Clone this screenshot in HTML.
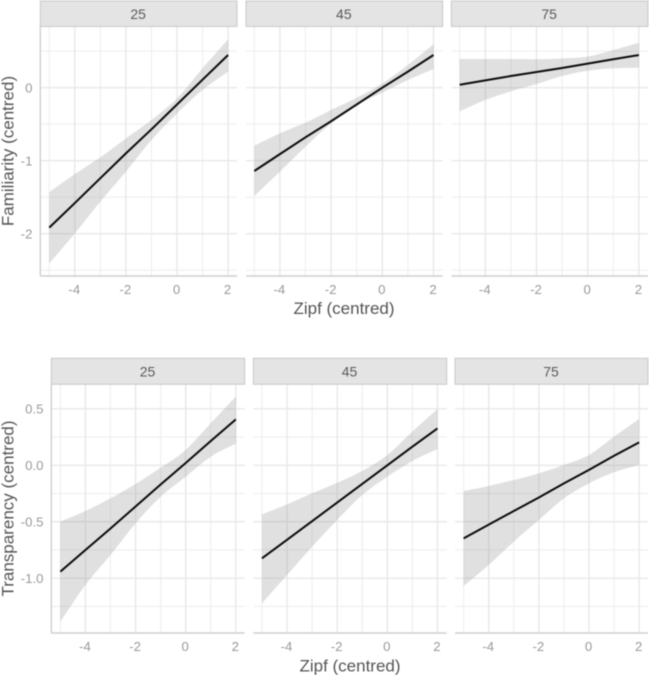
<!DOCTYPE html>
<html>
<head>
<meta charset="utf-8">
<title>Familiarity and transparency by Zipf</title>
<style>
html,body{margin:0;padding:0;background:#fff;}
svg{display:block;font-family:"Liberation Sans",Arial,sans-serif;filter:blur(0.4px);}
</style>
</head>
<body>
<svg id="chart" width="649" height="675" viewBox="0 0 649 675" xmlns="http://www.w3.org/2000/svg"></svg>
<script>
// ---- Data ----
const zipfKnots = [-5, -4, -3, -2, -1, 0, 1, 2];
const facetLabels = ["25", "45", "75"];
const xTickValues = [-4, -2, 0, 2];
const xMinorValues = [-5, -3, -1, 1];
const xTickLabels = ["-4", "-2", "0", "2"];

const famTickValues = [0, -1, -2];
const famTickLabels = ["0", "-1", "-2"];
const famMinorValues = [0.5, -0.5, -1.5, -2.5];

const transTickValues = [0.5, 0, -0.5, -1];
const transTickLabels = ["0.5", "0.0", "-0.5", "-1.0"];
const transMinorValues = [0.25, -0.25, -0.75, -1.25];

const fam25Fit = [-1.917, -1.58, -1.24, -0.90, -0.57, -0.23, 0.11, 0.448];
const fam25Upper = [-1.433, -1.183, -0.954, -0.694, -0.442, -0.146, 0.265, 0.663];
const fam25Lower = [-2.406, -1.995, -1.561, -1.150, -0.717, -0.351, -0.032, 0.22];

const fam45Fit = [-1.141, -0.91, -0.68, -0.46, -0.23, 0.0, 0.22, 0.448];
const fam45Upper = [-0.794, -0.625, -0.479, -0.305, -0.137, 0.06, 0.311, 0.594];
const fam45Lower = [-1.484, -1.15, -0.808, -0.488, -0.237, -0.068, 0.105, 0.256];

const fam75Fit = [0.04, 0.10, 0.16, 0.215, 0.27, 0.33, 0.39, 0.447];
const fam75Upper = [0.393, 0.393, 0.393, 0.39, 0.40, 0.425, 0.516, 0.616];
const fam75Lower = [-0.323, -0.168, -0.05, 0.05, 0.16, 0.233, 0.265, 0.274];

const trans25Fit = [-0.942, -0.75, -0.56, -0.365, -0.17, 0.02, 0.215, 0.407];
const trans25Upper = [-0.499, -0.405, -0.293, -0.166, -0.021, 0.136, 0.372, 0.608];
const trans25Lower = [-1.385, -1.06, -0.795, -0.514, -0.278, -0.101, 0.076, 0.192];

const trans45Fit = [-0.824, -0.66, -0.495, -0.33, -0.165, 0.0, 0.165, 0.327];
const trans45Upper = [-0.434, -0.346, -0.248, -0.154, -0.05, 0.091, 0.298, 0.496];
const trans45Lower = [-1.223, -0.972, -0.721, -0.485, -0.263, -0.101, 0.038, 0.144];

const trans75Fit = [-0.647, -0.525, -0.405, -0.285, -0.16, -0.04, 0.085, 0.203];
const trans75Upper = [-0.228, -0.183, -0.13, -0.071, 0.003, 0.091, 0.254, 0.41];
const trans75Lower = [-1.069, -0.883, -0.676, -0.485, -0.293, -0.16, -0.062, 0.003];

// ---- Layout (not data) ----
const NS = "http://www.w3.org/2000/svg";
const svg = document.getElementById("chart");

function node(tag, attrs, parent) {
  const el = document.createElementNS(NS, tag);
  for (const k in attrs) el.setAttribute(k, attrs[k]);
  parent.appendChild(el);
  return el;
}
function xAxisFn(zeroPx, unitPx) { return v => zeroPx + v * unitPx; }
function yAxisFn(zeroPx, unitPx) { return v => zeroPx - v * unitPx; }

// Catmull-Rom segments through the points, without the leading move command
function smoothSegments(pts) {
  let d = "";
  for (let i = 0; i < pts.length - 1; i++) {
    const p0 = pts[Math.max(i - 1, 0)];
    const p1 = pts[i];
    const p2 = pts[i + 1];
    const p3 = pts[Math.min(i + 2, pts.length - 1)];
    const c1x = p1[0] + (p2[0] - p0[0]) / 6;
    const c1y = p1[1] + (p2[1] - p0[1]) / 6;
    const c2x = p2[0] - (p3[0] - p1[0]) / 6;
    const c2y = p2[1] - (p3[1] - p1[1]) / 6;
    d += " C" + c1x.toFixed(2) + " " + c1y.toFixed(2) + " " + c2x.toFixed(2) + " " + c2y.toFixed(2) + " " + p2[0].toFixed(2) + " " + p2[1].toFixed(2);
  }
  return d;
}

const rows = [
  {
    key: "familiarity",
    title: "Familiarity (centred)",
    titleY: 151, titleX: 13.5,
    stripTop: 1, stripBottom: 26.5, panelBottom: 276,
    y: yAxisFn(87.7, 73),
    majors: famTickValues, minors: famMinorValues, tickLabels: famTickLabels,
    labelBaselineX: 32.5,
    xLabelY: 294, xTitleX: 344, xTitleY: 314,
    panels: [
      { left: 40.3, right: 237, x: xAxisFn(177, 25.55), fit: fam25Fit, upper: fam25Upper, lower: fam25Lower },
      { left: 246, right: 442.7, x: xAxisFn(382.3, 25.6), fit: fam45Fit, upper: fam45Upper, lower: fam45Lower },
      { left: 451.3, right: 648, x: xAxisFn(587.7, 25.6), fit: fam75Fit, upper: fam75Upper, lower: fam75Lower }
    ]
  },
  {
    key: "transparency",
    title: "Transparency (centred)",
    titleY: 508.5, titleX: 13.5,
    stripTop: 358.3, stripBottom: 384.3, panelBottom: 633,
    y: yAxisFn(465.3, 112.9),
    majors: transTickValues, minors: transMinorValues, tickLabels: transTickLabels,
    labelBaselineX: 43.5,
    xLabelY: 651, xTitleX: 350, xTitleY: 671.5,
    panels: [
      { left: 51.3, right: 244.7, x: xAxisFn(185.7, 25.07), fit: trans25Fit, upper: trans25Upper, lower: trans25Lower },
      { left: 253.3, right: 446.7, x: xAxisFn(387.3, 25.07), fit: trans45Fit, upper: trans45Upper, lower: trans45Lower },
      { left: 455, right: 648, x: xAxisFn(589, 25.07), fit: trans75Fit, upper: trans75Upper, lower: trans75Lower }
    ]
  }
];

rows.forEach(function (row) {
  const rowGroup = node("g", {}, svg);
  
  

  row.panels.forEach(function (p, i) {
    const facet = facetLabels[i];
    const g = node("g", {}, rowGroup);
    
    

    // Minor grid
    row.minors.forEach(function (v) {
      const l = node("line", { x1: p.left, x2: p.right, y1: row.y(v), y2: row.y(v), stroke: "#eeeeee", "stroke-width": 1.1 }, g);
      
      
    });
    xMinorValues.forEach(function (v) {
      const l = node("line", { x1: p.x(v), x2: p.x(v), y1: row.stripBottom, y2: row.panelBottom, stroke: "#eeeeee", "stroke-width": 1.1 }, g);
      
      
    });
    // Major grid
    row.majors.forEach(function (v) {
      const l = node("line", { x1: p.left, x2: p.right, y1: row.y(v), y2: row.y(v), stroke: "#e8e8e8", "stroke-width": 1.4 }, g);
      
      
    });
    xTickValues.forEach(function (v) {
      const l = node("line", { x1: p.x(v), x2: p.x(v), y1: row.stripBottom, y2: row.panelBottom, stroke: "#e8e8e8", "stroke-width": 1.4 }, g);
      
      
    });

    // Confidence ribbon
    const upperPts = zipfKnots.map((z, k) => [p.x(z), row.y(p.upper[k])]);
    const lowerPts = zipfKnots.map((z, k) => [p.x(z), row.y(p.lower[k])]).reverse();
    const ribbonPath = "M" + upperPts[0][0].toFixed(2) + " " + upperPts[0][1].toFixed(2) + smoothSegments(upperPts) +
      " L" + lowerPts[0][0].toFixed(2) + " " + lowerPts[0][1].toFixed(2) + smoothSegments(lowerPts) + " Z";
    const ribbon = node("path", { d: ribbonPath, fill: "#999999", "fill-opacity": 0.3 }, g);
    
    

    // Fit line
    const fitPts = zipfKnots.map((z, k) => p.x(z).toFixed(2) + "," + row.y(p.fit[k]).toFixed(2));
    const fit = node("polyline", { points: fitPts.join(" "), fill: "none", stroke: "#0b0b0b", "stroke-width": 2 }, g);
    
    

    // Strip
    const strip = node("rect", { x: p.left, y: row.stripTop, width: p.right - p.left, height: row.stripBottom - row.stripTop, fill: "#e4e4e4", stroke: "#c8c8c8", "stroke-width": 1 }, g);
    
    
    const stripText = node("text", { x: (p.left + p.right) / 2 - 0.5, y: (row.stripTop + row.stripBottom) / 2 + 5, "text-anchor": "middle", "font-size": 14, fill: "#5a5a5a" }, g);
    stripText.textContent = facet;
    
    

    // Axis lines
    const bottomAxis = node("line", { x1: p.left, x2: p.right, y1: row.panelBottom, y2: row.panelBottom, stroke: "#cfcfcf", "stroke-width": 1.4 }, g);
    
    
    if (i === 0) {
      const leftAxis = node("line", { x1: p.left, x2: p.left, y1: row.stripBottom, y2: row.panelBottom, stroke: "#cfcfcf", "stroke-width": 1.4 }, g);
      
      
      row.majors.forEach(function (v, k) {
        const t = node("text", { x: row.labelBaselineX, y: row.y(v) + 4.8, "text-anchor": "end", "font-size": 13.2, fill: "#999999" }, g);
        t.textContent = row.tickLabels[k];
        
        
      });
    }

    // X tick labels
    xTickValues.forEach(function (v, k) {
      const t = node("text", { x: p.x(v) - 0.5, y: row.xLabelY, "text-anchor": "middle", "font-size": 13.2, fill: "#999999" }, g);
      t.textContent = xTickLabels[k];
      
      
    });
  });

  // Axis titles
  const xTitle = node("text", { x: row.xTitleX, y: row.xTitleY, "text-anchor": "middle", "font-size": 17, fill: "#555555" }, rowGroup);
  xTitle.textContent = "Zipf (centred)";
  
  
  const yTitle = node("text", { x: row.titleX, y: row.titleY, "text-anchor": "middle", "font-size": 17, fill: "#555555", transform: "rotate(-90 " + row.titleX + " " + row.titleY + ")" }, rowGroup);
  yTitle.textContent = row.title;
  
  
});
</script>
</body>
</html>
